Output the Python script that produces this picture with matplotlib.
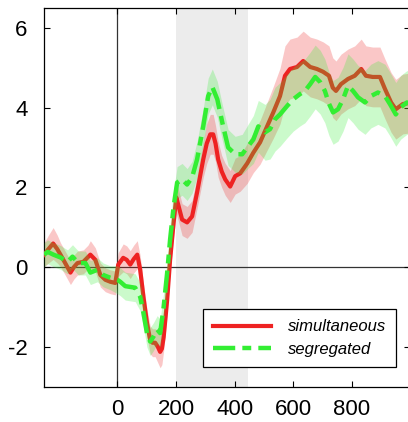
import numpy as np
import matplotlib
matplotlib.use('Agg')
import matplotlib.pyplot as plt

plt.rcParams['font.family'] = ['Liberation Sans', 'DejaVu Sans']
plt.rcParams['axes.unicode_minus'] = False

# simultaneous condition (ms, amplitude, band half-width)
t_sim = [-250, -235, -219, -205, -194, -178, -160, -148, -136, -116,
         -100, -92, -75, -58, -41, -24, -7, 3, 20, 32,
         44, 56, 68, 78, 89, 101, 112, 120, 129, 138,
         146, 152, 158, 164, 170, 180, 192, 201, 210, 221,
         238, 255, 272, 293, 305, 317, 327, 335, 344, 356,
         368, 385, 402, 419, 443, 464, 487, 511, 532, 555,
         572, 589, 613, 634, 658, 681, 702, 722, 735, 746,
         763, 787, 810, 832, 848, 871, 896, 913, 934, 950,
         974, 1000]
v_sim = [0.31, 0.45, 0.59, 0.45, 0.31, 0.10, -0.14, 0.00, 0.10, 0.13,
         0.25, 0.31, 0.18, -0.20, -0.32, -0.37, -0.40, 0.06, 0.23, 0.18,
         0.06, 0.20, 0.31, -0.07, -0.75, -1.40, -1.83, -1.90, -1.90, -2.00,
         -2.13, -2.05, -1.76, -1.30, -0.82, 0.18, 1.11, 1.75, 1.50, 1.19,
         1.12, 1.27, 1.87, 2.70, 3.10, 3.33, 3.33, 3.10, 2.70, 2.40,
         2.20, 2.02, 2.28, 2.35, 2.60, 2.87, 3.13, 3.53, 3.88, 4.29,
         4.80, 4.97, 5.02, 5.17, 5.02, 4.97, 4.90, 4.80, 4.50, 4.42,
         4.59, 4.72, 4.80, 4.97, 4.80, 4.77, 4.77, 4.47, 4.13, 3.96,
         4.09, 4.12]
e_sim = [0.30, 0.35, 0.40, 0.35, 0.30, 0.30, 0.30, 0.30, 0.30, 0.30,
         0.30, 0.35, 0.30, 0.30, 0.30, 0.30, 0.30, 0.30, 0.35, 0.35,
         0.35, 0.35, 0.35, 0.35, 0.35, 0.35, 0.35, 0.35, 0.35, 0.40,
         0.40, 0.40, 0.35, 0.35, 0.35, 0.35, 0.35, 0.40, 0.40, 0.40,
         0.40, 0.40, 0.40, 0.45, 0.50, 0.50, 0.50, 0.45, 0.45, 0.40,
         0.40, 0.40, 0.45, 0.45, 0.50, 0.50, 0.55, 0.60, 0.65, 0.70,
         0.75, 0.75, 0.75, 0.75, 0.75, 0.75, 0.75, 0.75, 0.75, 0.75,
         0.75, 0.75, 0.75, 0.75, 0.75, 0.75, 0.75, 0.75, 0.75, 0.75,
         0.75, 0.75]

# segregated condition
t_seg = [-250, -238, -218, -194, -170, -153, -133, -109, -92, -68,
         -48, -24, 0, 10, 27, 44, 61, 78, 89, 101,
         112, 123, 136, 146, 158, 170, 180, 192, 204, 221,
         238, 255, 272, 293, 310, 324, 341, 358, 378, 402,
         426, 446, 464, 481, 504, 521, 538, 555, 579, 600,
         623, 640, 658, 675, 692, 708, 722, 736, 753, 770,
         787, 804, 821, 845, 865, 889, 913, 930, 950, 967,
         988, 1000]
v_seg = [0.31, 0.38, 0.31, 0.24, 0.13, 0.26, 0.10, 0.10, -0.14, -0.07,
         -0.20, -0.27, -0.32, -0.37, -0.48, -0.50, -0.52, -0.75, -1.15, -1.66,
         -1.87, -1.75, -1.57, -1.66, -1.00, -0.14, 0.69, 1.52, 2.12, 2.20,
         2.07, 2.25, 2.70, 3.53, 4.29, 4.52, 4.21, 3.63, 3.00, 2.83,
         2.83, 3.03, 3.20, 3.53, 3.38, 3.46, 3.71, 3.83, 4.04, 4.21,
         4.34, 4.42, 4.59, 4.77, 4.64, 4.42, 4.10, 3.88, 3.96, 4.21,
         4.55, 4.42, 4.26, 4.13, 4.29, 4.38, 4.29, 4.09, 3.83, 4.01,
         4.13, 4.10]
e_seg = [0.30, 0.30, 0.30, 0.30, 0.30, 0.30, 0.30, 0.30, 0.30, 0.30,
         0.30, 0.30, 0.35, 0.35, 0.35, 0.35, 0.35, 0.35, 0.35, 0.35,
         0.35, 0.35, 0.35, 0.35, 0.35, 0.35, 0.40, 0.40, 0.40, 0.40,
         0.40, 0.40, 0.45, 0.45, 0.45, 0.45, 0.45, 0.45, 0.45, 0.45,
         0.50, 0.55, 0.60, 0.65, 0.70, 0.75, 0.80, 0.80, 0.80, 0.80,
         0.80, 0.80, 0.80, 0.80, 0.80, 0.80, 0.80, 0.80, 0.80, 0.80,
         0.80, 0.80, 0.80, 0.80, 0.80, 0.80, 0.80, 0.80, 0.80, 0.80,
         0.80, 0.80]

window = (200, 445)
xticks = [0, 200, 400, 600, 800]
yticks = [-2, 0, 2, 4, 6]

red = '#ee2222'
green = '#33ee33'

fig = plt.figure(figsize=(4.08, 4.22), dpi=100)
ax = fig.add_axes([0.108, 0.084, 0.898, 0.897])

ax.axvspan(window[0], window[1], color='#ececec', lw=0, zorder=0)
ax.axhline(0, color='#333333', lw=0.9, zorder=1)
ax.axvline(0, color='#333333', lw=0.9, zorder=1)

ts, vs, es = np.array(t_sim), np.array(v_sim), np.array(e_sim)
tg, vg, eg = np.array(t_seg), np.array(v_seg), np.array(e_seg)

ax.fill_between(ts, vs - es, vs + es, color=red, alpha=0.25, lw=0, zorder=2)
ax.plot(ts, vs, color=red, lw=3, label='simultaneous', zorder=3)
ax.fill_between(tg, vg - eg, vg + eg, color=green, alpha=0.25, lw=0, zorder=4)
ax.plot(tg, vg, color=green, lw=3.2, ls=(0, (5, 1.6, 2, 1.6)),
        label='segregated', zorder=5)

ax.set_xlim(-250, 1000)
ax.set_ylim(-3, 6.5)
ax.set_xticks(xticks)
ax.set_yticks(yticks)
ax.tick_params(direction='in', length=4, width=0.8, top=True, right=True,
               labelsize=16)
ax.tick_params(axis='y', pad=12)
ax.tick_params(axis='x', pad=9)
for s in ax.spines.values():
    s.set_linewidth(0.9)

leg = ax.legend(loc='lower right', bbox_to_anchor=(0.96, 0.052),
                borderaxespad=0,
                prop={'style': 'italic', 'size': 12}, fancybox=False,
                edgecolor='black', framealpha=1, handlelength=3.5,
                handletextpad=1.0, borderpad=0.6, labelspacing=0.45)
leg.get_frame().set_linewidth(0.9)

fig.savefig('out.png', dpi=100)
